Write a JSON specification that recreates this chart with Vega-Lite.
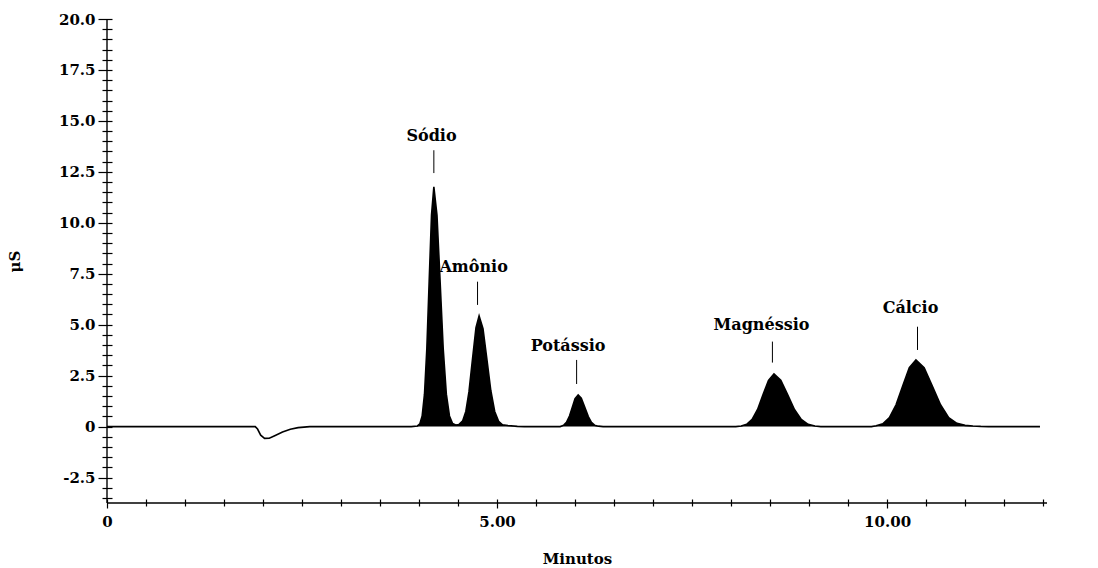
{
  "$schema": "https://vega.github.io/schema/vega-lite/v6.json",
  "width": 940,
  "height": 484,
  "autosize": {"type": "none"},
  "padding": {"left": 107, "top": 19, "right": 51, "bottom": 65},
  "background": "white",
  "config": {"view": {"stroke": null}},
  "datasets": {
    "trace": [
      {"t": 0, "v": 0}, {"t": 1.9, "v": 0}, {"t": 1.93, "v": -0.12}, {"t": 1.97, "v": -0.42}, {"t": 2.02, "v": -0.58},
      {"t": 2.08, "v": -0.57}, {"t": 2.15, "v": -0.45}, {"t": 2.25, "v": -0.27}, {"t": 2.35, "v": -0.13}, {"t": 2.45, "v": -0.05},
      {"t": 2.6, "v": 0}, {"t": 3.9, "v": 0},
      {"t": 3.98, "v": 0.03}, {"t": 4.01, "v": 0.13}, {"t": 4.04, "v": 0.52}, {"t": 4.07, "v": 1.59}, {"t": 4.10, "v": 3.82},
      {"t": 4.13, "v": 7.13}, {"t": 4.16, "v": 10.38}, {"t": 4.19, "v": 11.76}, {"t": 4.23, "v": 10.38}, {"t": 4.27, "v": 7.13},
      {"t": 4.31, "v": 3.82}, {"t": 4.35, "v": 1.59}, {"t": 4.39, "v": 0.52}, {"t": 4.43, "v": 0.15}, {"t": 4.47, "v": 0.08},
      {"t": 4.51, "v": 0.10}, {"t": 4.56, "v": 0.28}, {"t": 4.60, "v": 0.74}, {"t": 4.64, "v": 1.70}, {"t": 4.685, "v": 3.30},
      {"t": 4.73, "v": 4.85}, {"t": 4.77, "v": 5.43}, {"t": 4.82, "v": 4.80}, {"t": 4.87, "v": 3.30}, {"t": 4.92, "v": 1.77},
      {"t": 4.97, "v": 0.74}, {"t": 5.02, "v": 0.26}, {"t": 5.07, "v": 0.09}, {"t": 5.14, "v": 0.05}, {"t": 5.26, "v": 0.01},
      {"t": 5.35, "v": 0}, {"t": 5.81, "v": 0},
      {"t": 5.855, "v": 0.07}, {"t": 5.89, "v": 0.21}, {"t": 5.93, "v": 0.53}, {"t": 5.965, "v": 0.95}, {"t": 6.00, "v": 1.37},
      {"t": 6.04, "v": 1.55}, {"t": 6.08, "v": 1.39}, {"t": 6.125, "v": 0.95}, {"t": 6.17, "v": 0.49}, {"t": 6.21, "v": 0.21},
      {"t": 6.25, "v": 0.07}, {"t": 6.30, "v": 0.02}, {"t": 6.36, "v": 0}, {"t": 8.06, "v": 0},
      {"t": 8.13, "v": 0.03}, {"t": 8.20, "v": 0.11}, {"t": 8.27, "v": 0.35}, {"t": 8.34, "v": 0.84}, {"t": 8.41, "v": 1.57},
      {"t": 8.48, "v": 2.27}, {"t": 8.55, "v": 2.58}, {"t": 8.6375, "v": 2.27}, {"t": 8.725, "v": 1.57}, {"t": 8.8125, "v": 0.84},
      {"t": 8.90, "v": 0.35}, {"t": 8.9875, "v": 0.11}, {"t": 9.075, "v": 0.03}, {"t": 9.15, "v": 0}, {"t": 9.80, "v": 0},
      {"t": 9.86, "v": 0.04}, {"t": 9.945, "v": 0.14}, {"t": 10.03, "v": 0.44}, {"t": 10.115, "v": 1.07}, {"t": 10.20, "v": 1.99},
      {"t": 10.285, "v": 2.89}, {"t": 10.37, "v": 3.27}, {"t": 10.475, "v": 2.89}, {"t": 10.58, "v": 1.99}, {"t": 10.685, "v": 1.07},
      {"t": 10.79, "v": 0.44}, {"t": 10.895, "v": 0.16}, {"t": 11.0, "v": 0.06}, {"t": 11.1, "v": 0.03}, {"t": 11.2, "v": 0.01},
      {"t": 11.3, "v": 0}, {"t": 11.96, "v": 0}
    ],
    "labels": [
      {"ion": "Sódio", "tx": 4.16, "ty": 14.0, "lx": 4.19, "ly1": 13.56, "ly2": 12.44},
      {"ion": "Amônio", "tx": 4.70, "ty": 7.6, "lx": 4.75, "ly1": 7.11, "ly2": 5.97},
      {"ion": "Potássio", "tx": 5.91, "ty": 3.72, "lx": 6.02, "ly1": 3.27, "ly2": 2.09},
      {"ion": "Magnéssio", "tx": 8.39, "ty": 4.74, "lx": 8.53, "ly1": 4.17, "ly2": 3.14},
      {"ion": "Cálcio", "tx": 10.30, "ty": 5.55, "lx": 10.39, "ly1": 4.9, "ly2": 3.76}
    ],
    "frame": [{"x0": 0, "x1": 12.05, "y0": -3.75, "y1": 20}]
  },
  "encoding": {
    "x": {
      "type": "quantitative", "title": "Minutos",
      "scale": {"domain": [0, 12.05], "nice": false, "zero": false},
      "axis": {
        "values": [0, 0.5, 1, 1.5, 2, 2.5, 3, 3.5, 4, 4.5, 5, 5.5, 6, 6.5, 7, 7.5, 8, 8.5, 9, 9.5, 10, 10.5, 11, 11.5, 12],
        "offset": -4, "domain": false, "grid": false,
        "tickSize": {"condition": {"test": "datum.value % 5 == 0", "value": 9}, "value": 7},
        "tickColor": "black", "tickWidth": 1.2,
        "labelExpr": "datum.value == 0 ? '0' : (datum.value % 5 == 0 ? format(datum.value, '.2f') : '')",
        "labelFont": "DejaVu Serif", "labelFontWeight": "bold", "labelFontSize": 15, "labelColor": "black",
        "labelPadding": 6, "labelFlush": false, "labelOverlap": false,
        "titleFont": "DejaVu Serif", "titleFontWeight": "bold", "titleFontSize": 15,
        "titleColor": "black", "titlePadding": 22
      }
    },
    "y": {
      "type": "quantitative", "title": "μS",
      "scale": {"domain": [-3.75, 20], "nice": false, "zero": false},
      "axis": {
        "values": [-3.5, -3, -2.5, -2, -1.5, -1, -0.5, 0, 0.5, 1, 1.5, 2, 2.5, 3, 3.5, 4, 4.5, 5, 5.5, 6, 6.5, 7, 7.5, 8, 8.5, 9, 9.5, 10, 10.5, 11, 11.5, 12, 12.5, 13, 13.5, 14, 14.5, 15, 15.5, 16, 16.5, 17, 17.5, 18, 18.5, 19, 19.5, 20],
        "offset": -5, "domain": false, "grid": false,
        "tickSize": {"condition": {"test": "abs(datum.value / 2.5 - round(datum.value / 2.5)) < 0.001", "value": 14}, "value": 10},
        "tickColor": "black", "tickWidth": 1.2,
        "labelExpr": "abs(datum.value / 2.5 - round(datum.value / 2.5)) < 0.001 && datum.value > -3 ? (datum.value == 0 ? '0' : (datum.value < 0 ? '-' + format(-datum.value, '.1f') : format(datum.value, '.1f'))) : ''",
        "labelFont": "DejaVu Serif", "labelFontWeight": "bold", "labelFontSize": 15, "labelColor": "black",
        "labelPadding": 3, "labelOverlap": false,
        "titleFont": "DejaVu Serif", "titleFontWeight": "bold", "titleFontSize": 15,
        "titleColor": "black", "titlePadding": 36
      }
    }
  },
  "layer": [
    {
      "data": {"name": "trace"},
      "transform": [{"filter": "datum.t > 3"}],
      "mark": {"type": "area", "color": "black", "opacity": 1},
      "encoding": {
        "x": {"field": "t"},
        "y": {"field": "v"}
      }
    },
    {
      "data": {"name": "trace"},
      "mark": {"type": "line", "color": "black", "strokeWidth": 1.6},
      "encoding": {
        "x": {"field": "t"},
        "y": {"field": "v"}
      }
    },
    {
      "data": {"name": "frame"},
      "mark": {"type": "rule", "color": "black", "strokeWidth": 1.4},
      "encoding": {
        "x": {"field": "x0"},
        "y": {"field": "y0"},
        "y2": {"field": "y1"}
      }
    },
    {
      "data": {"name": "frame"},
      "mark": {"type": "rule", "color": "black", "strokeWidth": 1.4},
      "encoding": {
        "y": {"field": "y0"},
        "x": {"field": "x0"},
        "x2": {"field": "x1"}
      }
    },
    {
      "data": {"name": "labels"},
      "mark": {"type": "rule", "color": "black", "strokeWidth": 1},
      "encoding": {
        "x": {"field": "lx"},
        "y": {"field": "ly1"},
        "y2": {"field": "ly2"}
      }
    },
    {
      "data": {"name": "labels"},
      "mark": {"type": "text", "font": "DejaVu Serif", "fontWeight": "bold", "fontSize": 16, "color": "black", "align": "center", "baseline": "alphabetic"},
      "encoding": {
        "x": {"field": "tx"},
        "y": {"field": "ty"},
        "text": {"field": "ion"}
      }
    }
  ]
}
